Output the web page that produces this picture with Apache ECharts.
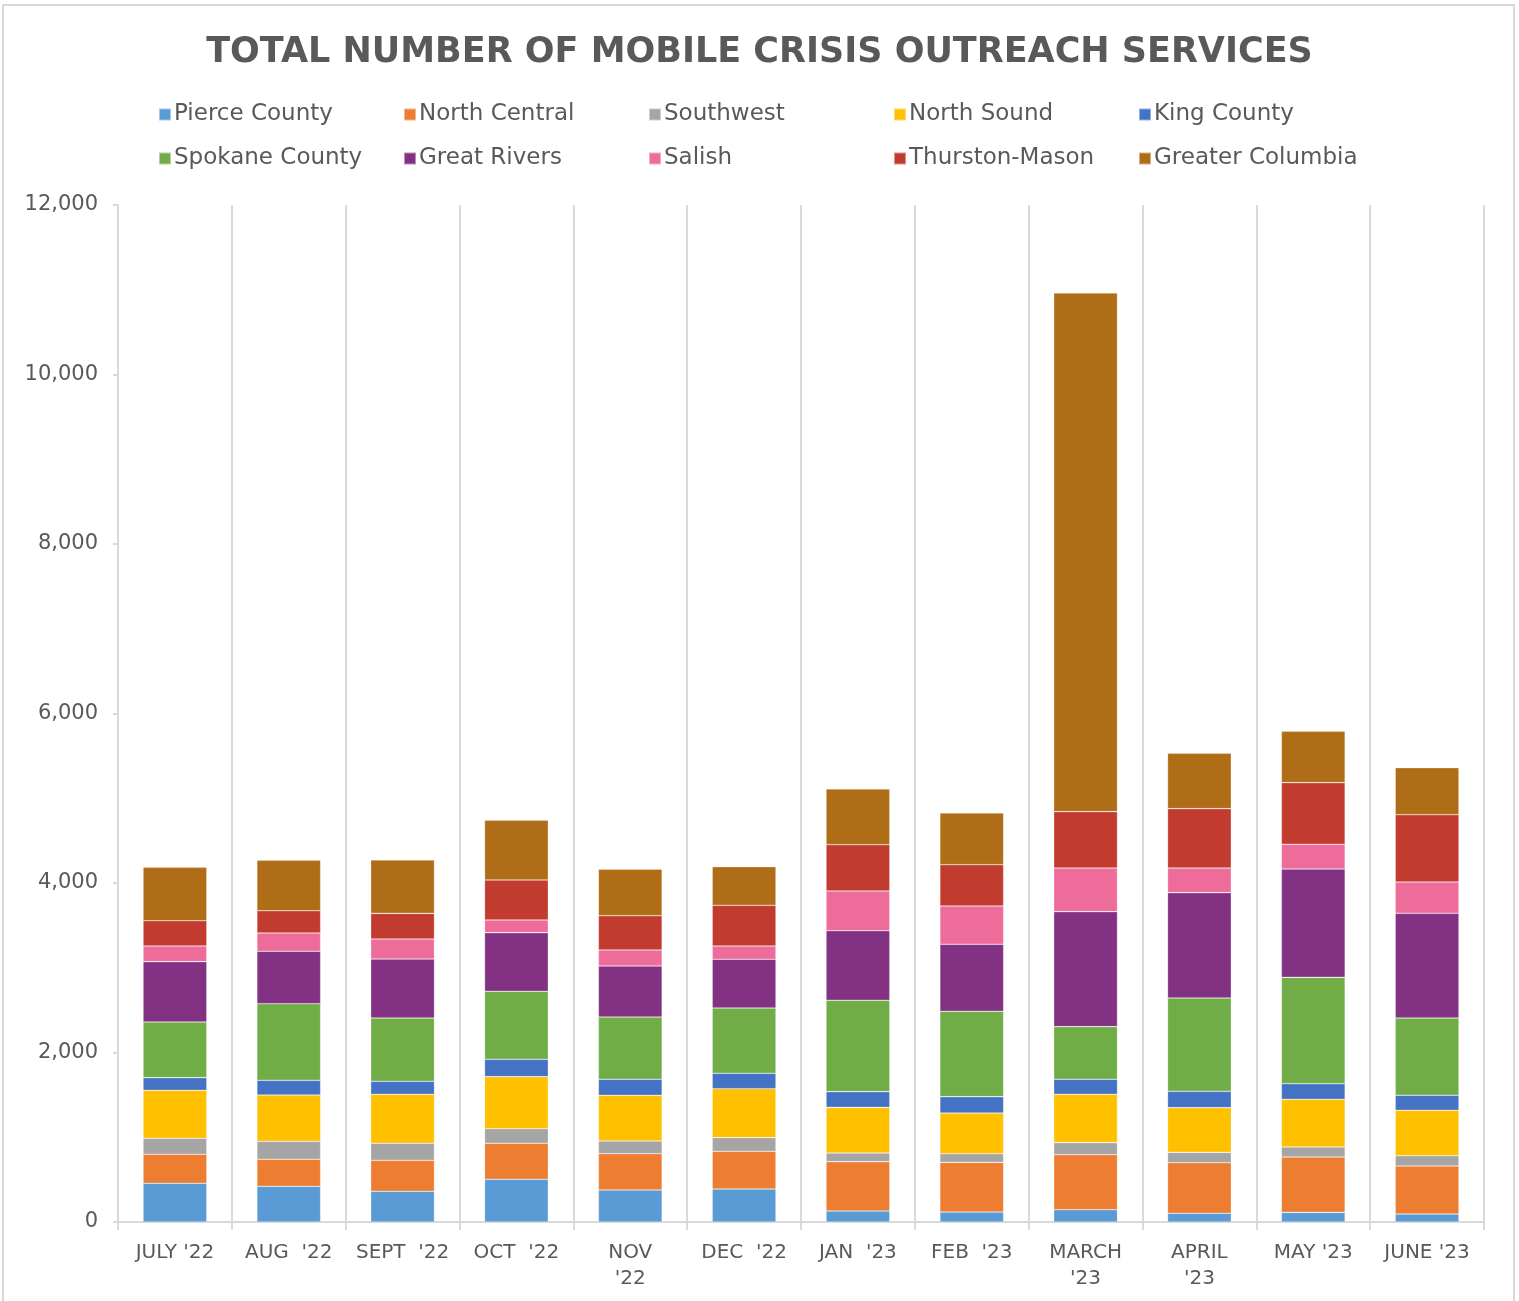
<!DOCTYPE html>
<html>
<head>
<meta charset="utf-8">
<script src="https://cdn.jsdelivr.net/npm/echarts@6/dist/echarts.min.js"></script>
<style>
html,body{margin:0;padding:0;background:#fff;}
#chart{width:1519px;height:1301px;}
</style>
</head>
<body>
<div id="chart"></div>
<script>
const categories = ["JULY '22","AUG  '22","SEPT  '22","OCT  '22","NOV\n'22","DEC  '22","JAN  '23","FEB  '23","MARCH\n'23","APRIL\n'23","MAY '23","JUNE '23"];
const seriesNames = ["Pierce County","North Central","Southwest","North Sound","King County","Spokane County","Great Rivers","Salish","Thurston-Mason","Greater Columbia"];
const pierceCounty    = [457, 421, 362, 504, 378, 389, 130, 118, 145, 103, 114, 94];
const northCentral    = [342, 319, 366, 425, 428, 445, 582, 586, 649, 597, 653, 567];
const southwest       = [189, 212, 201, 172, 150, 161, 102, 102, 142, 122, 118, 121];
const northSound      = [566, 547, 578, 614, 539, 578, 539, 480, 571, 527, 563, 536];
const kingCounty      = [149, 173, 153, 205, 189, 182, 185, 193, 177, 193, 184, 177];
const spokaneCounty   = [657, 904, 747, 802, 735, 770, 1078, 1007, 621, 1101, 1255, 912];
const greatRivers     = [712, 618, 696, 692, 602, 575, 821, 791, 1357, 1243, 1278, 1236];
const salish          = [185, 216, 236, 150, 189, 157, 469, 452, 515, 291, 292, 369];
const thurstonMason   = [298, 263, 303, 472, 404, 480, 546, 487, 665, 700, 727, 794];
const greaterColumbia = [630, 595, 630, 704, 548, 456, 657, 610, 6120, 654, 606, 555];
const yTicks = [0, 2000, 4000, 6000, 8000, 10000, 12000];

const seriesData = [pierceCounty, northCentral, southwest, northSound, kingCounty, spokaneCounty, greatRivers, salish, thurstonMason, greaterColumbia];
const colors = ['#5B9BD5','#ED7D31','#A5A5A5','#FFC000','#4472C4','#70AD47','#833183','#EE6C9A','#C23B2F','#B06D17'];

const FONT = '"DejaVu Sans", sans-serif';
const textColor = '#595959';

const legends = [];
for (let c = 0; c < 5; c++) {
  legends.push({
    left: 153 + c * 245,
    top: 98,
    orient: 'vertical',
    itemGap: 21,
    itemWidth: 12,
    itemHeight: 12,
    icon: 'rect',
    textStyle: { fontFamily: FONT, fontSize: 23, color: textColor, padding: [0,0,0,-2] },
    data: [seriesNames[c], seriesNames[c + 5]]
  });
}

const chart = echarts.init(document.getElementById('chart'), null, { renderer: 'canvas' });
chart.setOption({
  color: colors,
  animation: false,
  title: {
    text: 'TOTAL NUMBER OF MOBILE CRISIS OUTREACH SERVICES',
    left: 'center',
    top: 30,
    textStyle: { fontFamily: FONT, fontSize: 35, fontWeight: 'bold', color: textColor }
  },
  legend: legends,
  graphic: [{
    type: 'rect',
    shape: { x: 3, y: 5, width: 1511, height: 1310 },
    style: { fill: 'none', stroke: '#D9D9D9', lineWidth: 2 },
    silent: true
  }],
  grid: { left: 118, right: 35, top: 205, bottom: 79, containLabel: false },
  xAxis: {
    type: 'category',
    data: categories,
    axisLine: { lineStyle: { color: '#D9D9D9', width: 2 } },
    axisTick: { show: true, length: 8, lineStyle: { color: '#D9D9D9', width: 2 } },
    splitLine: { show: true, lineStyle: { color: '#D9D9D9', width: 2 } },
    axisLabel: { fontFamily: FONT, fontSize: 20, color: textColor, margin: 18, lineHeight: 26, interval: 0 }
  },
  yAxis: {
    type: 'value',
    min: 0,
    max: 12000,
    interval: 2000,
    axisLine: { show: true, lineStyle: { color: '#D9D9D9', width: 2 } },
    axisTick: { show: true, length: 5, lineStyle: { color: '#D9D9D9', width: 2 } },
    splitLine: { show: false },
    axisLabel: {
      fontFamily: FONT, fontSize: 21, color: textColor, margin: 20,
      formatter: v => yTicks.includes(v) ? v.toLocaleString('en-US') : ''
    }
  },
  series: seriesNames.map((name, i) => ({
    name: name,
    type: 'bar',
    stack: 'total',
    barWidth: '56%',
    data: seriesData[i],
    itemStyle: { color: colors[i], borderColor: 'rgba(255,255,255,0.45)', borderWidth: 0.6 }
  }))
});
</script>
</body>
</html>
